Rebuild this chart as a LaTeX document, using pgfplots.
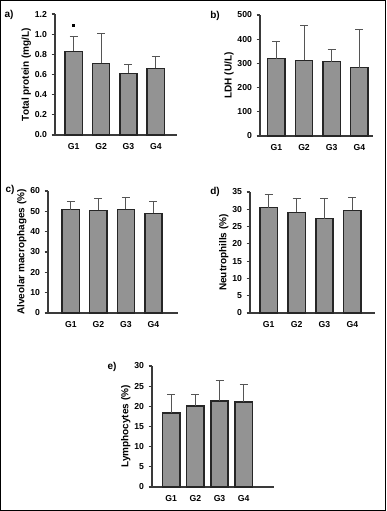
\documentclass[border=0pt]{standalone}
\usepackage{pgfplots}
\pgfplotsset{compat=1.18}
\usepackage{fontspec}
\setmainfont{Liberation Sans}
\definecolor{barfill}{HTML}{939393}
\definecolor{axcol}{HTML}{3A3A3A}
\definecolor{errcol}{HTML}{555555}
\pgfplotsset{
  panel/.style={
    scale only axis, anchor=south west,
    axis lines=left,
    axis line style={axcol, line width=0.8pt, -},
    ymin=0,
    xtick={1,2,3,4}, xticklabels={G1,G2,G3,G4},
    x tick style={draw=none},
    y tick style={axcol, line width=0.8pt},
    tick align=outside, major tick length=2.5pt,
    tick label style={font=\bfseries\fontsize{6.5}{7}\selectfont},
    ylabel style={font=\bfseries\fontsize{7.5}{8}\selectfont},
    /pgf/number format/assume math mode=true,
    clip=false,
  },
  bars/.style={ybar, bar width=13pt, fill=barfill, draw=black!85, line width=1.1pt, mark=none,
    error bars/.cd, y dir=plus, y explicit,
    error bar style={errcol, line width=0.7pt},
    error mark options={errcol, line width=0.7pt, rotate=90, mark size=3pt}},
}
\begin{document}
\begin{tikzpicture}
\draw[black, line width=0.9pt] (0.45pt,-0.45pt) rectangle (289.05pt,-382.8pt);
\path[use as bounding box] (0,0) rectangle (289.5pt,-383.25pt);

% a
\begin{axis}[panel, at={(41.25pt,-101.25pt)}, width=91.5pt, height=90.75pt,
  xmin=0.32, xmax=4.77, ymax=1.2, ytick={0,0.2,...,1.2},
  yticklabel style={/pgf/number format/.cd, fixed, fixed zerofill, precision=1},
  ylabel={Total protein (mg/L)}, ylabel style={yshift=-4pt}]
\addplot[bars] coordinates {(1,0.83) +- (0,0.15) (2,0.71) +- (0,0.30) (3,0.61) +- (0,0.09) (4,0.66) +- (0,0.12)};
\addplot[only marks, mark=square*, mark size=0.8pt, black] coordinates {(1,1.09)};
\end{axis}
\node[font=\bfseries\fontsize{7.5}{8}\selectfont] at (9pt*0.75,-15pt*0.75) {a)};

% b
\begin{axis}[panel, at={(195pt,-102pt)}, width=84.75pt, height=90.75pt,
  xmin=0.41, xmax=4.49, ymax=500, ytick={0,100,...,500},
  ylabel={LDH (U/L)}, ylabel style={yshift=-4pt}]
\addplot[bars] coordinates {(1,320) +- (0,70) (2,312) +- (0,145) (3,307) +- (0,51) (4,283) +- (0,159)};
\end{axis}
\node[font=\bfseries\fontsize{7.5}{8}\selectfont] at (215pt*0.75,-16pt*0.75) {b)};

% c
\begin{axis}[panel, at={(36pt,-234.75pt)}, width=97.5pt, height=91.5pt,
  xmin=0.17, xmax=4.89, ymax=60, ytick={0,10,...,60},
  ylabel={Alveolar macrophages (\%)}, ylabel style={yshift=-4pt}]
\addplot[bars] coordinates {(1,50.8) +- (0,4.2) (2,50.5) +- (0,6.0) (3,51.0) +- (0,6.0) (4,49.0) +- (0,5.8)};
\end{axis}
\node[font=\bfseries\fontsize{7.5}{8}\selectfont] at (10pt*0.75,-190pt*0.75) {c)};

% d
\begin{axis}[panel, at={(187.5pt,-234.75pt)}, width=93.75pt, height=90.75pt,
  xmin=0.33, xmax=4.81, ymax=35, ytick={0,5,...,35},
  ylabel={Neutrophills (\%)}, ylabel style={yshift=-4pt}]
\addplot[bars] coordinates {(1,30.5) +- (0,3.8) (2,29.1) +- (0,4.1) (3,27.3) +- (0,5.7) (4,29.7) +- (0,3.6)};
\end{axis}
\node[font=\bfseries\fontsize{7.5}{8}\selectfont] at (215pt*0.75,-192pt*0.75) {d)};

% e
\begin{axis}[panel, at={(114pt,-365.25pt)}, width=91.5pt, height=90.75pt,
  xmin=0.21, xmax=5.25, ymax=30, ytick={0,5,...,30},
  ylabel={Lymphocytes (\%)}, ylabel style={yshift=-4pt}]
\addplot[bar width=14pt, bars] coordinates {(1,18.3) +- (0,4.6) (2,20.1) +- (0,2.9) (3,21.3) +- (0,5.0) (4,21.1) +- (0,4.4)};
\end{axis}
\node[font=\bfseries\fontsize{7.5}{8}\selectfont] at (112pt*0.75,-367pt*0.75) {e)};
\end{tikzpicture}
\end{document}
